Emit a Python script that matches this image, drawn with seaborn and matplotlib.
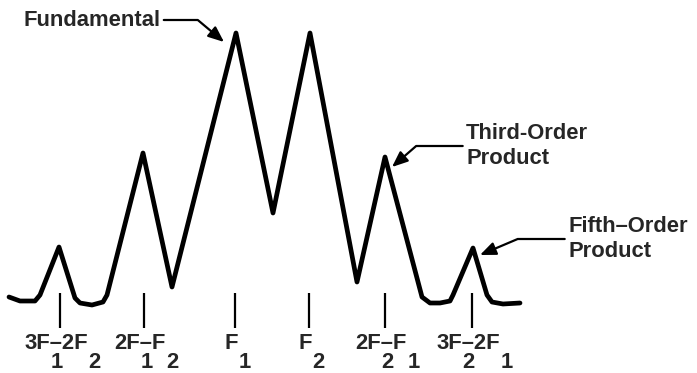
import matplotlib
matplotlib.use("Agg")
import matplotlib.pyplot as plt
import seaborn as sns

# trace: frequency (arbitrary units) vs level
freq = [9, 20, 35, 40, 59, 75, 80, 92, 103, 107, 143, 172, 236, 273, 310,
        357, 385, 422, 430, 440, 450, 453, 473, 487, 492, 503, 520]
level = [76, 72, 72, 78, 126, 75, 70, 68, 71, 78, 220, 86, 340, 160, 340,
         91, 216, 76, 70, 70, 72, 78, 125, 78, 71, 69, 70]

# centre frequencies of the products and their labels (main text, subscript)
centres = [60, 144, 235, 309, 385, 472]
labels = [
    [("3F", "1"), ("\u20132F", "2")],
    [("2F", "1"), ("\u2013F", "2")],
    [("F", "1")],
    [("F", "2")],
    [("2F", "2"), ("\u2013F", "1")],
    [("3F", "2"), ("\u20132F", "1")],
]

# callouts: text, point on the trace, text anchor, angle of the last leg
callouts = [
    ("Fundamental", (224, 331), (92, 353), -40),
    ("Third-Order\nProduct", (392, 206), (466, 227), 41),
    ("Fifth\u2013Order\nProduct", (480, 118), (568, 134), 23),
]

sns.set_style("white")
plt.rcParams["font.family"] = ["Liberation Sans", "DejaVu Sans"]

fig = plt.figure(figsize=(6.97, 3.73), dpi=100)
ax = fig.add_axes([0, 0, 1, 1])
sns.lineplot(x=freq, y=level, color="black", lw=3.4, ax=ax, sort=False)
ax.vlines(centres, 45, 80, color="black", lw=1.6)
ax.set_xlim(0, 697)
ax.set_ylim(0, 373)
ax.axis("off")

fs = 15.8
fw = "bold"
r = fig.canvas.get_renderer()


def text_w(s):
    t = ax.text(0, 0, s, fontsize=fs, fontweight=fw)
    w = t.get_window_extent(r).width
    t.remove()
    return w * 72 / fig.dpi


for c, parts in zip(centres, labels):
    main = "".join(p[0] for p in parts)
    total = text_w(main) + text_w(parts[-1][1]) + 1
    x0 = -total / 2 + 2
    ax.annotate(main, (c, 24), xytext=(x0, 0), textcoords="offset points",
                fontsize=fs, fontweight=fw, ha="left", va="baseline")
    acc = ""
    for m, s in parts:
        acc += m
        ax.annotate(s, (c, 24), xytext=(x0 + text_w(acc) + 0.5, -14),
                    textcoords="offset points", fontsize=fs, fontweight=fw,
                    ha="left", va="baseline")

for txt, tip, pos, ang in callouts:
    ha = "center" if "\n" not in txt else "left"
    ax.annotate(txt, tip, xytext=pos, fontsize=fs, fontweight=fw,
                ha=ha, va="center", linespacing=1.25,
                arrowprops=dict(arrowstyle="-|>,head_length=0.6,head_width=0.25",
                                color="black", lw=1.6, shrinkA=0, shrinkB=0,
                                connectionstyle=f"angle,angleA=0,angleB={ang},rad=0"))

fig.savefig("out.png", dpi=100)
